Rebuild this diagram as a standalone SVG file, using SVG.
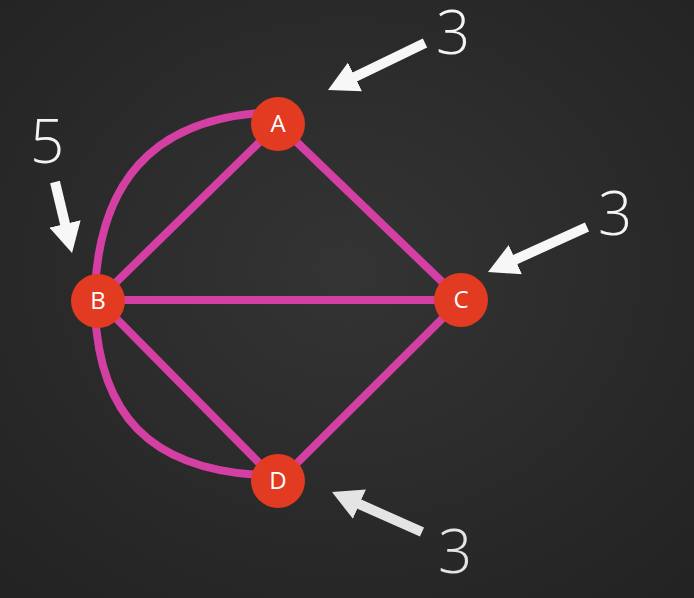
<svg xmlns="http://www.w3.org/2000/svg" width="694" height="598" viewBox="0 0 694 598">
<defs>
<radialGradient id="bg" cx="0.5" cy="0.45" r="0.75">
<stop offset="0" stop-color="#343434"/>
<stop offset="1" stop-color="#222222"/>
</radialGradient>
<marker id="ahw" viewBox="0 0 30 32" refX="2" refY="16" markerWidth="30" markerHeight="32" markerUnits="userSpaceOnUse" orient="auto">
<path d="M0,0 L30,16 L0,32 z" fill="#f7f7f7"/>
</marker>
<marker id="ahg" viewBox="0 0 30 32" refX="2" refY="16" markerWidth="30" markerHeight="32" markerUnits="userSpaceOnUse" orient="auto">
<path d="M0,0 L30,16 L0,32 z" fill="#e4e4e4"/>
</marker>
</defs>
<style>
.edge{stroke:#d43fa3;stroke-width:8;fill:none;stroke-linecap:round}
.node circle{fill:#e33a22}
.node text{fill:#ffffff;font-family:"Open Sans","Liberation Sans",sans-serif;font-size:24px;text-anchor:middle}
.deg{font-family:"Open Sans","Liberation Sans",sans-serif;font-weight:300;font-size:60px;text-anchor:middle;fill:#f4f4f4}
.arrow{stroke:#f7f7f7;stroke-width:10;fill:none}
</style>
<rect width="694" height="598" fill="url(#bg)"/>
<g id="connectors">
<line class="edge" x1="98" y1="300" x2="278" y2="124"/>
<line class="edge" x1="278" y1="124" x2="461" y2="300"/>
<line class="edge" x1="98" y1="300" x2="461" y2="300"/>
<line class="edge" x1="98" y1="300" x2="278" y2="482"/>
<line class="edge" x1="461" y1="300" x2="278" y2="482"/>
<path class="edge" d="M95 290 C100 185 150 122 258 113"/>
<path class="edge" d="M95 312 C100 415 150 468 258 475"/>
</g>
<g id="A" class="node"><circle cx="278" cy="124" r="27"/><text x="278" y="132">A</text></g>
<g id="B" class="node"><circle cx="98" cy="301" r="27"/><text x="98" y="309">B</text></g>
<g id="C" class="node"><circle cx="461" cy="300" r="27"/><text x="461" y="308">C</text></g>
<g id="D" class="node"><circle cx="278" cy="481" r="27"/><text x="278" y="489">D</text></g>
<g id="labels">
<line class="arrow" x1="425" y1="43" x2="353.2" y2="77.8" marker-end="url(#ahw)"/>
<text class="deg" x="453" y="54">3</text>
<line class="arrow" x1="55" y1="182" x2="65.5" y2="225.8" marker-end="url(#ahw)"/>
<text class="deg" x="47" y="163">5</text>
<line class="arrow" x1="587" y1="227" x2="513.5" y2="260.4" marker-end="url(#ahw)"/>
<text class="deg" x="615" y="235">3</text>
<line class="arrow" style="stroke:#e4e4e4" x1="422" y1="532" x2="357.6" y2="503.4" marker-end="url(#ahg)"/>
<text class="deg" style="fill:#e4e4e4" x="455" y="573">3</text>
</g>
</svg>
